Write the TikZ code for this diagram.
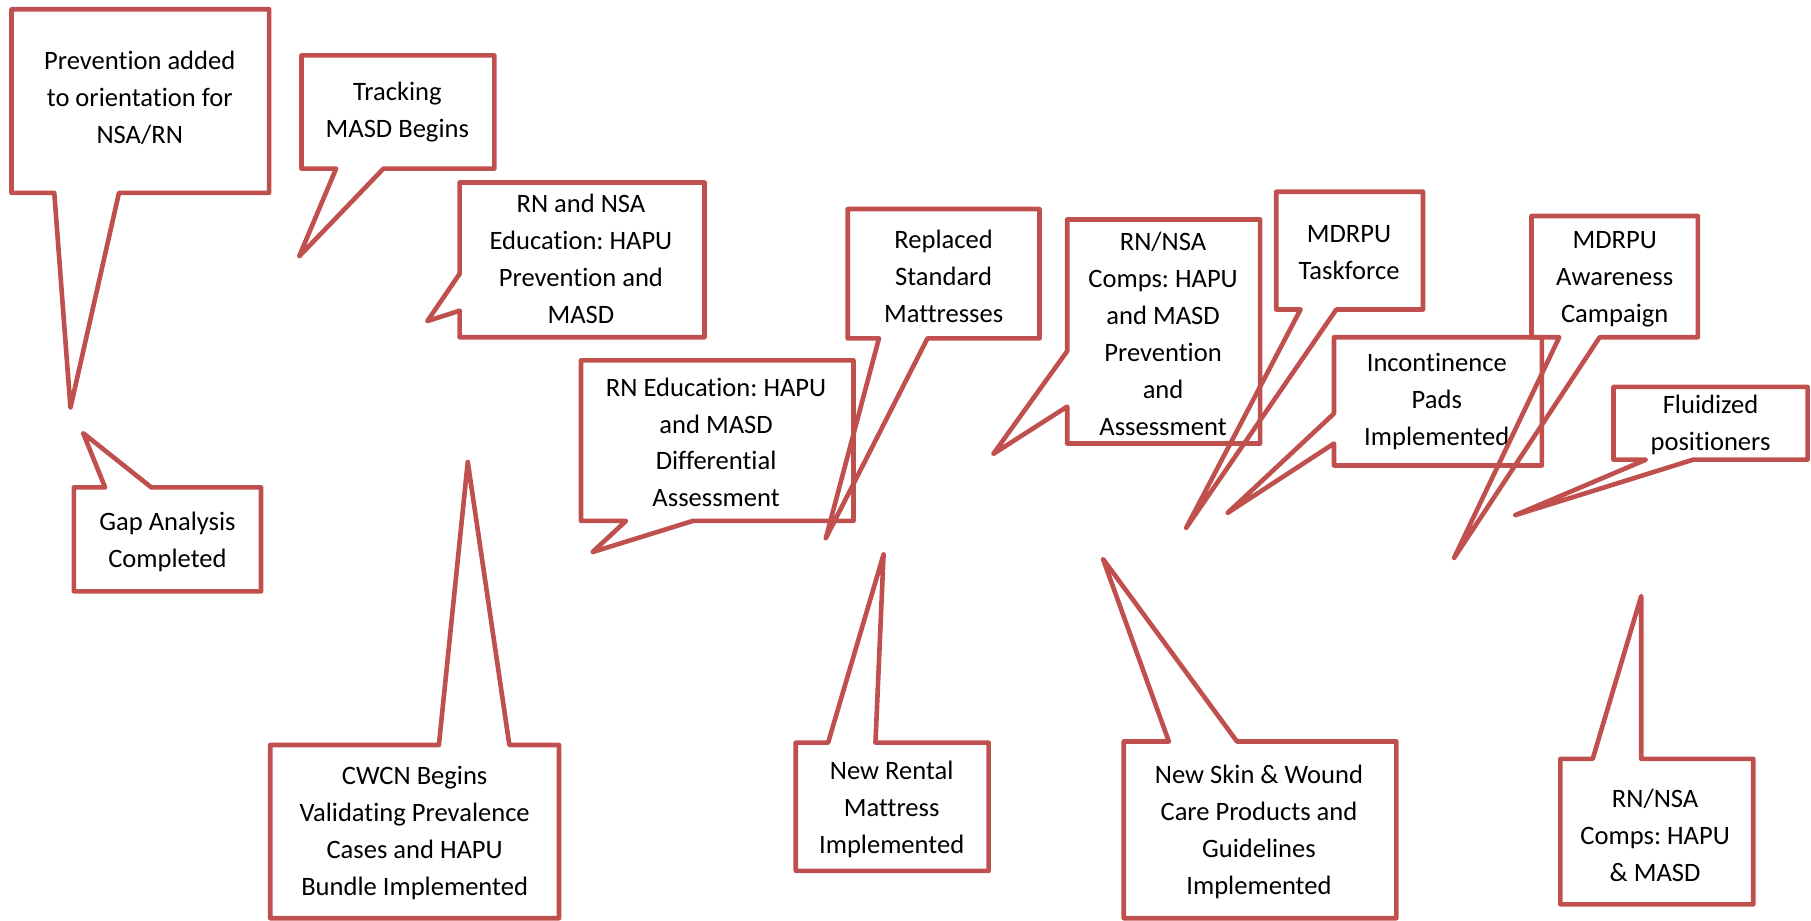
\documentclass[tikz,border=0pt]{standalone}
\usepackage{fontspec}
\setmainfont{Carlito}[Ligatures={NoCommon}]
\usepackage{xcolor}
\usepackage{tikz}
\definecolor{bubblered}{HTML}{C0504D}
\frenchspacing

\begin{document}
\begin{tikzpicture}[
        x=0.5pt, y=-0.5pt,
        bubble/.style={draw=bubblered, line width=2pt, line join=round},
        note/.style={align=center, inner sep=0pt, font=\fontsize{11.5}{16}\selectfont}
    ]
        \useasboundingbox (0,0) rectangle (1568,797);

        % top row
        \draw[bubble] (10,8) -- (233,8) -- (233,167) -- (103,167) -- (61,353) -- (47,167) -- (10,167) -- cycle;
        \node[note] (orient) at (121,85) {Prevention added\\to orientation for\\NSA/RN};

        \draw[bubble] (261,48) -- (428,48) -- (428,146) -- (332,146) -- (259,222) -- (291,146) -- (261,146) -- cycle;
        \node[note] (track) at (344,97) {Tracking\\MASD Begins};

        \draw[bubble] (398,158) -- (610,158) -- (610,292) -- (398,292) -- (398,269) -- (370,278) -- (398,237) -- cycle;
        \node[note] (rnnsa) at (503,224) {RN and NSA\\Education: HAPU\\Prevention and\\MASD};

        \draw[bubble] (503,312) -- (739,312) -- (739,451) -- (600,451) -- (513,478) -- (542,451) -- (503,451) -- cycle;
        \node[note] (rnedu) at (620,383) {RN Education: HAPU\\and MASD\\Differential\\Assessment};

        \draw[bubble] (734,181) -- (900,181) -- (900,293) -- (803,293) -- (715,466) -- (761,293) -- (734,293) -- cycle;
        \node[note] (replaced) at (817,239) {Replaced\\Standard\\Mattresses};

        \draw[bubble] (924,190) -- (1091,190) -- (1091,384) -- (924,384) -- (924,352) -- (860,393) -- (924,304) -- cycle;
        \node[note] (comps) at (1007,289) {RN/NSA\\Comps: HAPU\\and MASD\\Prevention\\and\\Assessment};

        \draw[bubble] (1105,166) -- (1232,166) -- (1232,268) -- (1157,268) -- (1027,457) -- (1126,268) -- (1105,268) -- cycle;
        \node[note] (task) at (1168,219) {MDRPU\\Taskforce};

        \draw[bubble] (1155,292) -- (1335,292) -- (1335,403) -- (1155,403) -- (1155,384) -- (1063,444) -- (1155,358) -- cycle;
        \node[note] (pads) at (1244,348) {Incontinence\\Pads\\Implemented};

        \draw[bubble] (1326,187) -- (1470,187) -- (1470,292) -- (1385,292) -- (1259,483) -- (1350,292) -- (1326,292) -- cycle;
        \node[note] (aware) at (1398,242) {MDRPU\\Awareness\\Campaign};

        \draw[bubble] (1397,335) -- (1565,335) -- (1565,398) -- (1466,398) -- (1312,446) -- (1425,398) -- (1397,398) -- cycle;
        \node[note] (fluid) at (1481,368) {Fluidized\\positioners};

        % bottom row
        \draw[bubble] (64,422) -- (91,422) -- (72,375) -- (131,422) -- (226,422) -- (226,512) -- (64,512) -- cycle;
        \node[note] (gap) at (145,469) {Gap Analysis\\Completed};

        \draw[bubble] (234,645) -- (380,645) -- (405,400) -- (441,645) -- (484,645) -- (484,795) -- (234,795) -- cycle;
        \node[note] (cwcn) at (359,721) {CWCN Begins\\Validating Prevalence\\Cases and HAPU\\Bundle Implemented};

        \draw[bubble] (689,643) -- (717,643) -- (765,480) -- (758,643) -- (856,643) -- (856,754) -- (689,754) -- cycle;
        \node[note] (rental) at (772,701) {New Rental\\Mattress\\Implemented};

        \draw[bubble] (973,642) -- (1012,642) -- (955,484) -- (1071,642) -- (1209,642) -- (1209,795) -- (973,795) -- cycle;
        \node[note] (skin) at (1090,720) {New Skin \& Wound\\Care Products and\\Guidelines\\Implemented};

        \draw[bubble] (1351,657) -- (1379,657) -- (1421,516) -- (1421,657) -- (1518,657) -- (1518,783) -- (1351,783) -- cycle;
        \node[note] (compstwo) at (1433,723) {RN/NSA\\Comps: HAPU\\\& MASD};
    \end{tikzpicture}
\end{document}
